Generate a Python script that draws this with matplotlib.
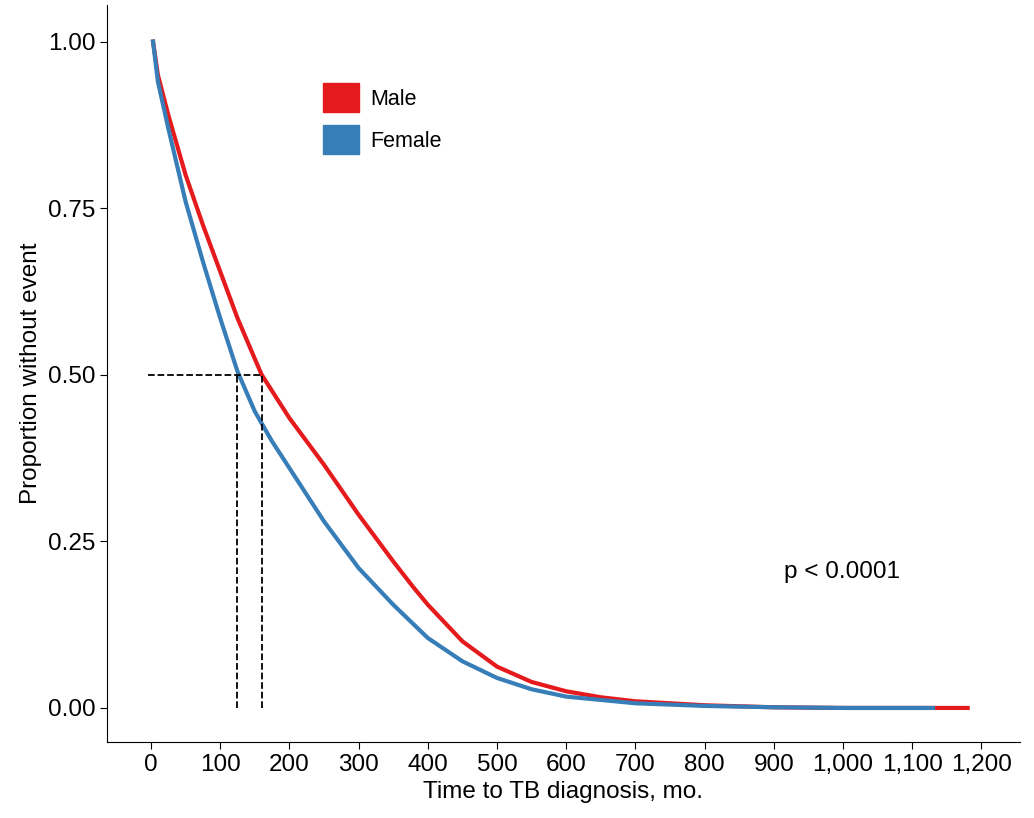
import matplotlib
matplotlib.use("Agg")
import matplotlib.pyplot as plt
from matplotlib.ticker import FuncFormatter
from matplotlib.patches import Patch
plt.rcParams['font.family'] = ['Liberation Sans', 'DejaVu Sans']

male_t = [3, 10, 25, 50, 75, 100, 125, 150, 160, 200, 250, 300, 350, 380, 400, 450, 500, 550, 600, 650, 700, 800, 900, 1000, 1180]
male_s = [1.0, 0.95, 0.89, 0.80, 0.725, 0.655, 0.585, 0.524, 0.50, 0.435, 0.365, 0.29, 0.22, 0.18, 0.155, 0.10, 0.062, 0.039, 0.025, 0.016, 0.01, 0.004, 0.001, 0.0, 0.0]
female_t = [3, 10, 25, 50, 75, 100, 125, 150, 175, 200, 250, 300, 350, 400, 450, 500, 550, 600, 700, 800, 900, 1000, 1130]
female_s = [1.0, 0.94, 0.87, 0.76, 0.67, 0.585, 0.505, 0.445, 0.40, 0.36, 0.28, 0.21, 0.155, 0.105, 0.07, 0.045, 0.028, 0.017, 0.007, 0.003, 0.001, 0.0, 0.0]
medians = [125, 160]
xticks = list(range(0, 1201, 100))
yticks = [0.0, 0.25, 0.5, 0.75, 1.0]

fig = plt.figure(figsize=(10.34, 8.18), dpi=100)
ax = fig.add_axes([0.1035, 0.093, 0.8825, 0.901])
red, blue = "#E41A1C", "#377EB8"
ax.plot(male_t, male_s, color=red, lw=3)
ax.plot(female_t, female_s, color=blue, lw=3)
ax.plot([-5, max(medians)], [0.5, 0.5], "k--", lw=1.3)
for m in medians:
    ax.plot([m, m], [0, 0.5], "k--", lw=1.3)
ax.set_xlim(-63.5, 1255)
ax.set_ylim(-0.051, 1.055)
ax.set_xticks(xticks)
ax.xaxis.set_major_formatter(FuncFormatter(lambda v, p: f"{int(v):,}"))
ax.set_yticks(yticks)
ax.yaxis.set_major_formatter(FuncFormatter(lambda v, p: f"{v:.2f}"))
ax.tick_params(labelsize=17.5, length=5)
for s in ["top", "right"]:
    ax.spines[s].set_visible(False)
ax.set_xlabel("Time to TB diagnosis, mo.", fontsize=17.5)
ax.set_ylabel("Proportion without event", fontsize=17.5)
ax.text(915, 0.195, "p < 0.0001", fontsize=17.5)
ax.legend(handles=[Patch(color=red, label="Male"), Patch(color=blue, label="Female")],
          loc="upper left", bbox_to_anchor=(0.215, 0.92), frameon=False, fontsize=15.5,
          handlelength=1.7, handleheight=1.7, labelspacing=0.6, handletextpad=0.5)
fig.savefig("out.png", dpi=100)
